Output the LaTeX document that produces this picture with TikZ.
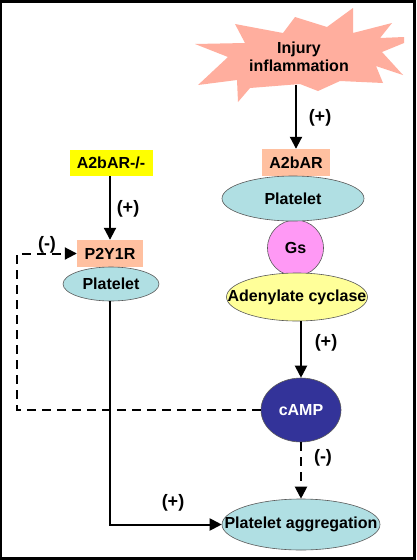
\documentclass[tikz,border=0pt]{standalone}
\usepackage{fontspec}
\setmainfont{Liberation Sans}
\usetikzlibrary{arrows.meta,shapes.geometric,calc}
\definecolor{salmonbox}{HTML}{FFC0A0}
\definecolor{burst}{HTML}{FFAE9E}
\definecolor{pblue}{HTML}{B0DFE3}
\definecolor{gspink}{HTML}{FF99F5}
\definecolor{acyel}{HTML}{FFFF99}
\definecolor{campblue}{HTML}{333399}
\definecolor{kofill}{HTML}{FFFF00}
\newcommand{\zw}[1]{\makebox[0pt][c]{#1}}
\begin{document}
\begin{tikzpicture}[x=1pt,y=-1pt,
  lbl/.style={font=\fontsize{16}{18}\selectfont\bfseries, inner sep=0pt},
  sign/.style={font=\fontsize{18}{20}\selectfont\bfseries, inner sep=0pt},
  rbox/.style={lbl, fill=salmonbox},
  ell/.style={lbl, ellipse, draw=black!65, line width=0.6pt},
  arr/.style={line width=2pt, -{Triangle[width=12pt,length=12pt]}},
  darr/.style={arr, dash pattern=on 9pt off 6pt},
]
\useasboundingbox (0,0) rectangle (416,560);
\fill[black] (0,0) rectangle (416,560);
\fill[white] (2,3) rectangle (413,557);

% starburst
\fill[burst] (195,44) -- (228,57) -- (198,85) -- (237,80) -- (238,102) -- (250,88)
  -- (300,84) -- (318,91) -- (340,81) -- (383,83) -- (376,66) -- (403,75)
  -- (382,52) -- (404,43) -- (404,37) -- (380,38) -- (392,23) -- (353,33)
  -- (353,8) -- (327,27) -- (295,17) -- (283,33) -- (235,24) -- (245,43) -- cycle;
\node[lbl, align=center] (inj) at (299,57) {Injury\\inflammation};
\coordinate (injb) at (296,85);

% right column
\node[rbox, minimum width=68pt, minimum height=27pt] (a2b) at (296,162.5) {A2bAR};
\node[lbl, circle, draw=black!65, line width=0.6pt, fill=gspink, minimum size=56pt] (gs) at (295.5,248) {\zw{Gs}};
\node[ell, fill=pblue, minimum width=142pt, minimum height=45pt] (plR) at (293,198.5) {\zw{Platelet}};
\node[ell, fill=acyel, minimum width=141pt, minimum height=48pt] (ac) at (297,297) {\zw{Adenylate cyclase}};
\node[ell, fill=campblue, text=white, minimum width=80pt, minimum height=64pt] (camp) at (301,410) {\zw{cAMP}};
\node[ell, fill=pblue, minimum width=158pt, minimum height=51pt] (agg) at (301,524.5) {\zw{Platelet aggregation}};

% left column
\node[lbl, fill=kofill, minimum width=83pt, minimum height=26pt] (ko) at (111,163) {A2bAR-/-};
\node[rbox, minimum width=66pt, minimum height=27pt] (p2y) at (110,253.5) {P2Y1R};
\node[ell, fill=pblue, minimum width=96pt, minimum height=34pt] (plL) at (111,284) {\zw{Platelet}};

% connectors
\draw[arr] (injb) -- (a2b.north);
\node[sign] (s1) at (320,118) {(+)};
\draw[arr] (camp.north |- ac.south) -- (camp.north);
\node[sign] (s2) at (326,343) {(+)};
\draw[darr] (camp.south) -- (agg.north);
\node[sign] (s3) at (323,458) {(-)};
\draw[arr] (ko.south -| p2y.north) -- (p2y.north);
\node[sign] (s4) at (128,209) {(+)};
\draw[arr] (plL.south -| p2y.south) |- (agg.west);
\node[sign] (s5) at (173,503) {(+)};
\coordinate (dc) at (17,0);
\draw[darr] (camp.west) -- (camp.west -| dc) -- (dc |- p2y.west) -- (p2y.west);
\node[sign] (s6) at (47,245) {(-)};
\end{tikzpicture}
\end{document}
